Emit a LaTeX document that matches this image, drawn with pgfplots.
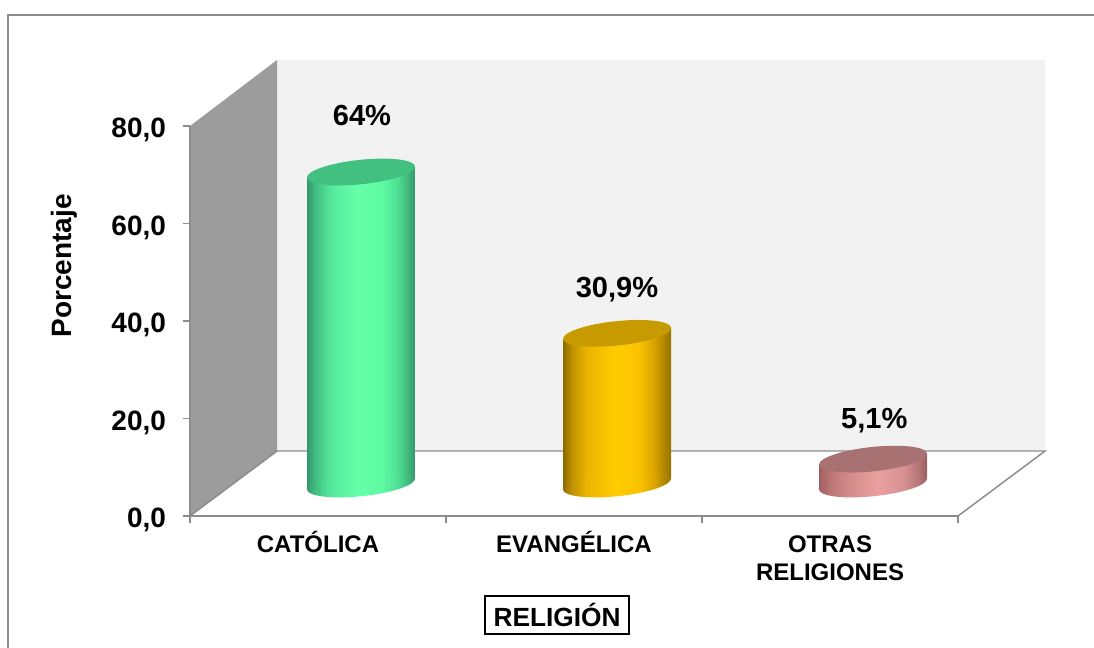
\documentclass[border=0pt]{standalone}
\usepackage{fontspec}
\setmainfont{Liberation Sans}
\usepackage{pgfplots}
\pgfplotsset{compat=1.18}
\definecolor{axisgray}{HTML}{8C8C8C}
\definecolor{wallleft}{HTML}{9C9C9C}
\definecolor{wallback}{HTML}{F2F2F2}
\definecolor{topgreen}{HTML}{42C080}
\definecolor{topyellow}{HTML}{C79A00}
\definecolor{toppink}{HTML}{A87272}
\definecolor{ga}{RGB}{52,150,108}
\definecolor{gb}{RGB}{66,190,130}
\definecolor{gc}{RGB}{84,232,156}
\definecolor{gd}{RGB}{102,255,170}
\definecolor{ge}{RGB}{92,250,160}
\definecolor{gf}{RGB}{78,222,148}
\definecolor{gg}{RGB}{62,180,122}
\definecolor{ya}{RGB}{140,105,0}
\definecolor{yb}{RGB}{190,145,0}
\definecolor{yc}{RGB}{235,180,0}
\definecolor{yd}{RGB}{255,204,0}
\definecolor{ye}{RGB}{250,195,0}
\definecolor{yf}{RGB}{218,165,0}
\definecolor{yg}{RGB}{175,132,0}
\definecolor{yh}{RGB}{150,115,0}
\definecolor{pa}{RGB}{160,95,95}
\definecolor{pb}{RGB}{190,120,120}
\definecolor{pc}{RGB}{215,140,140}
\definecolor{pd}{RGB}{235,160,160}
\definecolor{pe}{RGB}{215,145,145}
\definecolor{pf}{RGB}{180,118,118}
\definecolor{pg}{RGB}{150,95,95}
\pgfdeclarehorizontalshading{cylgreen}{100bp}{
 color(0bp)=(ga);color(25bp)=(ga);color(29bp)=(gb);color(36bp)=(gc);color(48bp)=(gd);
 color(60bp)=(ge);color(67bp)=(gf);color(72bp)=(gg);color(75bp)=(ga);color(100bp)=(ga)}
\pgfdeclarehorizontalshading{cylyellow}{100bp}{
 color(0bp)=(ya);color(25bp)=(ya);color(29bp)=(yb);color(36bp)=(yc);color(49bp)=(yd);
 color(60bp)=(ye);color(67bp)=(yf);color(72bp)=(yg);color(75bp)=(yh);color(100bp)=(yh)}
\pgfdeclarehorizontalshading{cylpink}{100bp}{
 color(0bp)=(pa);color(25bp)=(pa);color(31bp)=(pb);color(40bp)=(pc);color(52bp)=(pd);
 color(64bp)=(pe);color(71bp)=(pf);color(75bp)=(pg);color(100bp)=(pg)}
\newcommand{\capellipse}{\pgfpathellipse{\pgfpointorigin}{\pgfqpoint{40.5pt}{4.25pt}}{\pgfqpoint{-0.95pt}{9.1pt}}}
\pgfdeclareplotmark{basegreen}{\capellipse\pgfshadepath{cylgreen}{0}\pgfusepath{discard}}
\pgfdeclareplotmark{baseyellow}{\capellipse\pgfshadepath{cylyellow}{0}\pgfusepath{discard}}
\pgfdeclareplotmark{basepink}{\capellipse\pgfshadepath{cylpink}{0}\pgfusepath{discard}}
\pgfdeclareplotmark{topgreen}{\capellipse\pgfsetfillcolor{topgreen}\pgfusepath{fill}}
\pgfdeclareplotmark{topyellow}{\capellipse\pgfsetfillcolor{topyellow}\pgfusepath{fill}}
\pgfdeclareplotmark{toppink}{\capellipse\pgfsetfillcolor{toppink}\pgfusepath{fill}}
\begin{document}
\begin{tikzpicture}
\path[use as bounding box] (0pt,0pt) rectangle (820.5pt,486pt);
\draw[axisgray,line width=1.1pt] (6pt,0pt) -- (6pt,474.75pt) -- (820.5pt,474.75pt);
\begin{axis}[
  at={(142.5pt,99pt)},anchor=south west,
  scale only axis,width=576pt,height=292.5pt,
  xmin=0,xmax=3,ymin=0,ymax=80,clip=false,
  axis on top,
  axis x line=bottom,axis y line=left,
  axis line style={-,draw=axisgray,line width=1.1pt},
  xtick={0.5,1.5,2.5},
  xticklabels={CATÓLICA,EVANGÉLICA,{\vphantom{Ó}OTRAS\\RELIGIONES}},
  minor xtick={0,1,2,3},
  ytick={0,20,40,60,80},
  tick align=outside,
  major tick length=5.5pt,minor tick length=5pt,
  major x tick style={draw=none},
  minor x tick style={draw=axisgray,line width=1pt},
  major y tick style={draw=axisgray,line width=1pt},
  x tick label style={font=\fontsize{18}{21}\selectfont\bfseries,align=center,anchor=north,yshift=-2.75pt},
  y tick label style={font=\fontsize{21}{24}\selectfont\bfseries,xshift=-9pt,yshift=-3pt,
     /pgf/number format/.cd,fixed,fixed zerofill,precision=1,use comma,assume math mode=true},
  every axis y label/.style={at={(axis description cs:-0.1641,0.641)},rotate=90,anchor=center},
  every axis x label/.style={at={(axis description cs:0.478,-0.254)},anchor=center},
  ylabel={\fontsize{21}{24}\selectfont\bfseries Porcentaje},
  xlabel={\fontsize{19.7}{23}\selectfont\bfseries RELIGIÓN},
  xlabel style={draw=black,line width=1pt,fill=white,minimum width=108pt,minimum height=28.5pt,inner sep=0pt},
]
\addplot[fill=wallback,draw=none,mark=none] coordinates {(0.34,13.33) (3.34,13.33) (3.34,93.54) (0.34,93.54)} -- cycle;
\addplot[fill=wallleft,draw=none,mark=none] coordinates {(0,0) (0,80) (0.34,93.54) (0.34,13.33)} -- cycle;
\addplot[draw=axisgray,line width=1.1pt,mark=none] coordinates {(0,0) (0.34,13.33) (3.34,13.33) (3,0)};
\end{axis}
\begin{axis}[
  at={(174.75pt,123pt)},anchor=south west,
  scale only axis,width=576pt,height=292.5pt,
  xmin=0,xmax=3,ymin=0,ymax=80,clip=false,hide axis,
  nodes near coords,point meta=explicit symbolic,
  every node near coord/.append style={font=\fontsize{21.8}{24}\selectfont\bfseries,anchor=center,text=black},
]
% CATOLICA
\addplot[only marks,mark=basegreen,nodes near coords=\empty] coordinates {(0.5,0)};
\addplot[shade,shading=cylgreen,draw=none,mark=none,nodes near coords=\empty] coordinates {(0.2891,-1.13) (0.7109,1.13) (0.7109,65.13) (0.2891,62.87)} -- cycle;
\addplot[only marks,mark=topgreen,every node near coord/.append style={yshift=42.5pt,xshift=0.75pt}] coordinates {(0.5,64) [64\%]};
% EVANGELICA
\addplot[only marks,mark=baseyellow,nodes near coords=\empty] coordinates {(1.5,0)};
\addplot[shade,shading=cylyellow,draw=none,mark=none,nodes near coords=\empty] coordinates {(1.2891,-1.13) (1.7109,1.13) (1.7109,32.03) (1.2891,29.77)} -- cycle;
\addplot[only marks,mark=topyellow,every node near coord/.append style={yshift=33pt}] coordinates {(1.5,30.9) [{30,9\%}]};
% OTRAS
\addplot[only marks,mark=basepink,nodes near coords=\empty] coordinates {(2.5,0)};
\addplot[shade,shading=cylpink,draw=none,mark=none,nodes near coords=\empty] coordinates {(2.2891,-1.13) (2.7109,1.13) (2.7109,6.23) (2.2891,3.97)} -- cycle;
\addplot[only marks,mark=toppink,every node near coord/.append style={yshift=28.5pt,xshift=1pt}] coordinates {(2.5,5.1) [{5,1\%}]};
\end{axis}
\end{tikzpicture}
\end{document}
